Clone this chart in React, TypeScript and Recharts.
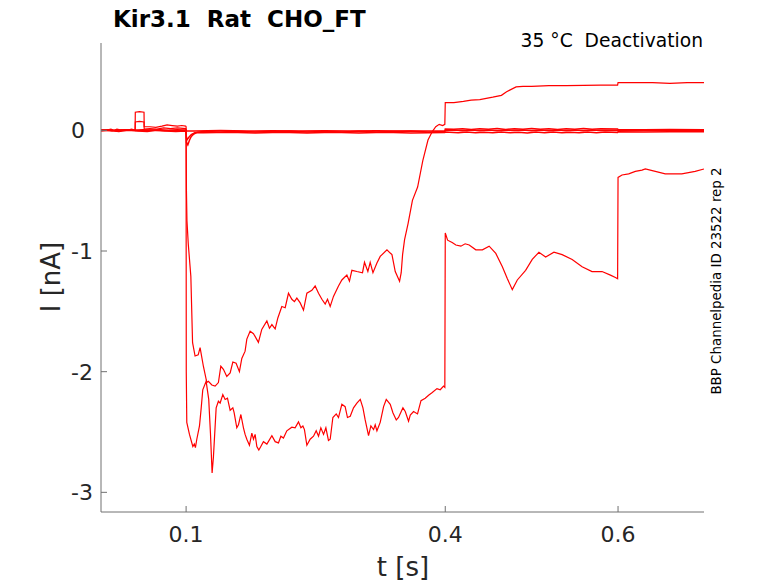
import React from 'react';
import { LineChart, Line, XAxis, YAxis } from 'recharts';

const xTicks = [0.1, 0.4, 0.6];
const yTicks = [-3, -2, -1, 0];
const xDomain: [number, number] = [0.0015, 0.6995];
const yDomain: [number, number] = [-3.163, 0.724];

const titleText = 'Kir3.1  Rat  CHO_FT';
const conditionText = '35 °C  Deactivation';
const sourceText = 'BBP Channelpedia ID 23522 rep 2';
const xLabel = 't [s]';
const yLabel = 'I [nA]';

// sweep with slow deactivation, ends on top after the 0.4 s step
const sweepA: [number, number][] = [
  [0.0015, 0.0], [0.008, 0.005], [0.014, -0.005], [0.02, 0.01], [0.026, 0.0], [0.032, 0.005],
  [0.038, 0.0], [0.041, 0.0], [0.0412, 0.15], [0.046, 0.155], [0.0513, 0.15], [0.0515, 0.03],
  [0.058, 0.03], [0.065, 0.025], [0.072, 0.035], [0.078, 0.045], [0.084, 0.04], [0.09, 0.035],
  [0.095, 0.04], [0.0995, 0.035], [0.1, 0.03], [0.1004, -0.5], [0.101, -0.75], [0.1025, -0.94],
  [0.1055, -1.21], [0.1075, -1.76], [0.1104, -1.87], [0.114, -1.86], [0.1162, -1.8], [0.12, -1.955],
  [0.124, -2.09], [0.1258, -2.08], [0.1298, -2.11], [0.1336, -2.12], [0.1374, -2.09], [0.1402, -1.955],
  [0.1432, -1.98], [0.1471, -2.04], [0.151, -2.01], [0.1541, -1.92], [0.1579, -1.93], [0.1617, -2.0],
  [0.1645, -1.89], [0.1683, -1.83], [0.1703, -1.73], [0.1741, -1.665], [0.178, -1.685], [0.1837, -1.757],
  [0.1876, -1.65], [0.1935, -1.58], [0.1965, -1.64], [0.1993, -1.61], [0.2031, -1.646], [0.2062, -1.555],
  [0.2108, -1.46], [0.2147, -1.47], [0.2185, -1.35], [0.2224, -1.4], [0.2254, -1.42], [0.2282, -1.39],
  [0.2321, -1.43], [0.2359, -1.49], [0.2398, -1.35], [0.2456, -1.326], [0.2494, -1.29], [0.2533, -1.35],
  [0.2572, -1.4], [0.261, -1.44], [0.2637, -1.4], [0.2668, -1.46], [0.2706, -1.376], [0.2764, -1.29],
  [0.2803, -1.24], [0.2861, -1.2], [0.2891, -1.25], [0.2919, -1.16], [0.2977, -1.17], [0.3042, -1.18],
  [0.3065, -1.094], [0.3104, -1.17], [0.3131, -1.094], [0.3163, -1.18], [0.3209, -1.1], [0.3247, -1.045],
  [0.3325, -0.99], [0.3363, -1.017], [0.3383, -1.03], [0.3421, -1.17], [0.3471, -1.25], [0.349, -1.18],
  [0.3506, -1.03], [0.3529, -0.906], [0.357, -0.77], [0.362, -0.58], [0.368, -0.47], [0.374, -0.25],
  [0.38, -0.08], [0.385, -0.01], [0.389, 0.03], [0.393, 0.05], [0.397, 0.04], [0.3995, 0.05],
  [0.4, 0.23], [0.41, 0.23], [0.421, 0.24], [0.43, 0.25], [0.44, 0.255], [0.455, 0.275],
  [0.465, 0.29], [0.471, 0.32], [0.482, 0.36], [0.49, 0.365], [0.5, 0.365], [0.52, 0.37],
  [0.54, 0.37], [0.56, 0.372], [0.58, 0.375], [0.5995, 0.375], [0.6, 0.395], [0.62, 0.395],
  [0.64, 0.395], [0.66, 0.39], [0.68, 0.395], [0.6995, 0.395],
];

// sweep with large inward current
const sweepB: [number, number][] = [
  [0.0015, 0.005], [0.007, 0.0], [0.013, 0.01], [0.019, -0.005], [0.025, 0.005], [0.031, 0.0],
  [0.037, 0.01], [0.041, 0.0], [0.0412, 0.07], [0.046, 0.075], [0.0513, 0.07], [0.0515, 0.01],
  [0.058, 0.015], [0.066, 0.01], [0.074, 0.02], [0.082, 0.015], [0.09, 0.02], [0.0995, 0.015],
  [0.1, 0.01], [0.1002, -2.0], [0.1008, -2.42], [0.1039, -2.52], [0.1078, -2.62], [0.1095, -2.6],
  [0.1108, -2.63], [0.1124, -2.56], [0.1155, -2.45], [0.1175, -2.3], [0.1193, -2.15], [0.1232, -2.08],
  [0.1262, -2.23], [0.1282, -2.51], [0.1301, -2.84], [0.1316, -2.71], [0.1348, -2.3], [0.1374, -2.245],
  [0.1394, -2.26], [0.1425, -2.19], [0.1452, -2.23], [0.1479, -2.22], [0.151, -2.32], [0.1541, -2.3],
  [0.1556, -2.34], [0.1587, -2.465], [0.1606, -2.44], [0.1634, -2.355], [0.1664, -2.465], [0.1683, -2.52],
  [0.1703, -2.56], [0.1733, -2.61], [0.1761, -2.51], [0.178, -2.56], [0.1799, -2.52], [0.1819, -2.62],
  [0.1842, -2.65], [0.1865, -2.62], [0.1895, -2.58], [0.1935, -2.6], [0.1993, -2.53], [0.2031, -2.58],
  [0.2069, -2.59], [0.2097, -2.535], [0.2127, -2.55], [0.2166, -2.49], [0.2224, -2.46], [0.2262, -2.465],
  [0.2301, -2.416], [0.2329, -2.465], [0.2352, -2.45], [0.237, -2.48], [0.2398, -2.61], [0.2436, -2.56],
  [0.2475, -2.535], [0.2506, -2.49], [0.2533, -2.535], [0.256, -2.465], [0.2591, -2.52], [0.2618, -2.465],
  [0.2648, -2.57], [0.2668, -2.56], [0.2699, -2.38], [0.2738, -2.35], [0.2764, -2.38], [0.2803, -2.27],
  [0.2841, -2.29], [0.2868, -2.38], [0.29, -2.37], [0.2938, -2.3], [0.2977, -2.26], [0.3016, -2.23],
  [0.3047, -2.3], [0.3073, -2.4], [0.3112, -2.53], [0.3139, -2.45], [0.317, -2.48], [0.3189, -2.44],
  [0.3209, -2.49], [0.3247, -2.42], [0.3286, -2.29], [0.3317, -2.23], [0.3363, -2.27], [0.3394, -2.34],
  [0.3433, -2.4], [0.3459, -2.38], [0.351, -2.3], [0.3537, -2.33], [0.3575, -2.41], [0.3595, -2.36],
  [0.3633, -2.33], [0.3679, -2.35], [0.3719, -2.24], [0.3768, -2.22], [0.3807, -2.195], [0.3846, -2.175],
  [0.3904, -2.14], [0.3942, -2.15], [0.398, -2.12], [0.3995, -2.13], [0.4, -0.85], [0.4027, -0.91],
  [0.408, -0.93], [0.4123, -0.95], [0.4181, -0.96], [0.423, -0.94], [0.4277, -0.95], [0.4354, -0.99],
  [0.443, -0.99], [0.4508, -0.96], [0.4585, -1.02], [0.4661, -1.13], [0.4719, -1.23], [0.4776, -1.32],
  [0.4834, -1.24], [0.493, -1.16], [0.5007, -1.07], [0.5084, -1.01], [0.5162, -1.05], [0.5258, -1.01],
  [0.5353, -1.03], [0.5469, -1.07], [0.5584, -1.13], [0.5699, -1.17], [0.5815, -1.17], [0.5912, -1.2],
  [0.597, -1.22], [0.5995, -1.23], [0.6, -0.39], [0.6046, -0.37], [0.6123, -0.36], [0.62, -0.34],
  [0.6277, -0.33], [0.6316, -0.32], [0.6431, -0.34], [0.6546, -0.36], [0.6738, -0.36], [0.6893, -0.34],
  [0.6995, -0.32],
];

// sweeps that stay near zero
const sweepC: [number, number][] = [
  [0.0015, 0.0], [0.01, 0.005], [0.02, -0.005], [0.03, 0.005], [0.04, 0.0], [0.05, 0.005],
  [0.06, 0.0], [0.07, 0.005], [0.08, 0.0], [0.09, 0.005], [0.0995, 0.0], [0.1, -0.02],
  [0.1005, -0.1], [0.102, -0.12], [0.104, -0.08], [0.106, -0.05], [0.109, -0.03], [0.113, -0.015],
  [0.12, -0.01], [0.14, -0.013], [0.16, -0.007], [0.18, -0.013], [0.2, -0.009], [0.22, -0.006],
  [0.24, -0.013], [0.26, -0.009], [0.28, -0.013], [0.3, -0.007], [0.32, -0.013], [0.34, -0.009],
  [0.36, -0.006], [0.38, -0.013], [0.3995, -0.01], [0.4, 0.012], [0.41, 0.009], [0.42, 0.014],
  [0.43, 0.008], [0.44, 0.013], [0.45, 0.01], [0.46, 0.015], [0.47, 0.008], [0.48, 0.013],
  [0.49, 0.01], [0.5, 0.015], [0.51, 0.009], [0.52, 0.013], [0.53, 0.008], [0.54, 0.014],
  [0.55, 0.01], [0.56, 0.015], [0.57, 0.009], [0.58, 0.013], [0.5995, 0.011], [0.6, 0.007],
  [0.63, 0.006], [0.66, 0.008], [0.6995, 0.006],
];

const sweepD: [number, number][] = [
  [0.0015, -0.005], [0.012, 0.0], [0.022, -0.01], [0.033, 0.0], [0.044, -0.005], [0.055, -0.01],
  [0.066, 0.0], [0.077, -0.005], [0.088, -0.01], [0.0995, -0.005], [0.1, -0.03], [0.1008, -0.08],
  [0.103, -0.06], [0.106, -0.035], [0.11, -0.02], [0.12, -0.019], [0.15, -0.016], [0.18, -0.021],
  [0.21, -0.016], [0.24, -0.021], [0.27, -0.016], [0.3, -0.021], [0.33, -0.016], [0.36, -0.021],
  [0.3995, -0.017], [0.4, -0.014], [0.415, -0.019], [0.425, -0.014], [0.435, -0.02], [0.445, -0.015],
  [0.455, -0.02], [0.465, -0.014], [0.475, -0.019], [0.485, -0.015], [0.495, -0.021], [0.505, -0.014],
  [0.515, -0.019], [0.525, -0.013], [0.535, -0.02], [0.545, -0.015], [0.555, -0.02], [0.565, -0.014],
  [0.575, -0.019], [0.585, -0.014], [0.5995, -0.017], [0.6, -0.012], [0.63, -0.013], [0.66, -0.011],
  [0.6995, -0.012],
];

const sweepE: [number, number][] = [
  [0.0015, 0.002], [0.015, -0.003], [0.03, 0.004], [0.045, -0.002], [0.06, 0.003], [0.075, -0.003],
  [0.0995, 0.002], [0.1, -0.005], [0.11, -0.005], [0.14, -0.002], [0.17, -0.006], [0.2, -0.003],
  [0.23, -0.006], [0.26, -0.003], [0.29, -0.006], [0.32, -0.003], [0.35, -0.006], [0.3995, -0.004],
  [0.4, -0.001], [0.41, 0.003], [0.42, -0.003], [0.43, 0.002], [0.44, -0.004], [0.45, 0.002],
  [0.46, -0.003], [0.47, 0.003], [0.48, -0.002], [0.49, 0.003], [0.5, -0.004], [0.51, 0.002],
  [0.52, -0.003], [0.53, 0.003], [0.54, -0.004], [0.55, 0.002], [0.56, -0.003], [0.57, 0.003],
  [0.58, -0.002], [0.5995, 0.001], [0.6, -0.002], [0.64, -0.001], [0.68, -0.003], [0.6995, -0.001],
];

const sweeps = [sweepC, sweepD, sweepE, sweepB, sweepA];

const toRows = (pts: [number, number][]) => pts.map(([t, i]) => ({ t, i }));

const AXIS = '#707070';
const TEXT = '#262626';
const FONT = '"DejaVu Sans", sans-serif';
const TRACE = '#ff0000';

const XTick = (props: any) => {
  const { x, y, payload } = props;
  return (
    <g>
      <line x1={x} x2={x} y1={y} y2={y - 6} stroke={AXIS} strokeWidth={1} />
      <text x={x} y={y + 30} textAnchor="middle" fontSize={22} fill={TEXT} fontFamily={FONT}>
        {String(payload.value)}
      </text>
    </g>
  );
};

const YTick = (props: any) => {
  const { x, y, payload } = props;
  const v = payload.value;
  return (
    <g>
      <line x1={x} x2={x + 6} y1={y} y2={y} stroke={AXIS} strokeWidth={1} />
      <text x={v === 0 ? x - 16 : x - 8} y={y} dy="0.36em" textAnchor="end" fontSize={22} fill={TEXT} fontFamily={FONT}>
        {String(v)}
      </text>
    </g>
  );
};

export default function App() {
  return (
    <div style={{ position: 'absolute', left: 0, top: 0, width: 778, height: 583, background: '#fff' }}>
      <LineChart width={778} height={583} margin={{ top: 43, right: 74, bottom: 0, left: 0 }}>
        <XAxis
          type="number"
          dataKey="t"
          domain={xDomain}
          ticks={xTicks}
          allowDataOverflow
          height={71}
          tickSize={0}
          tickMargin={0}
          tickLine={false}
          axisLine={{ stroke: AXIS, strokeWidth: 1 }}
          tick={<XTick />}
          interval={0}
        />
        <YAxis
          type="number"
          dataKey="i"
          domain={yDomain}
          ticks={yTicks}
          allowDataOverflow
          width={101}
          tickSize={0}
          tickMargin={0}
          tickLine={false}
          axisLine={{ stroke: AXIS, strokeWidth: 1 }}
          tick={<YTick />}
          interval={0}
        />
        {sweeps.map((s, k) => (
          <Line
            key={k}
            data={toRows(s)}
            dataKey="i"
            type="linear"
            stroke={TRACE}
            strokeWidth={k < 3 ? 1.5 : 1.2}
            dot={false}
            activeDot={false}
            isAnimationActive={false}
          />
        ))}
      </LineChart>
      <svg width={778} height={583} style={{ position: 'absolute', left: 0, top: 0, pointerEvents: 'none' }}>
        <text x={113} y={27} fontSize={23} fontWeight="bold" fill="#000" fontFamily={FONT} style={{ whiteSpace: 'pre' }}>
          {titleText}
        </text>
        <text x={703} y={47} fontSize={18.7} textAnchor="end" fill="#000" fontFamily={FONT} style={{ whiteSpace: 'pre' }}>
          {conditionText}
        </text>
        <text x={0} y={0} transform="translate(720.5,281) rotate(-90)" fontSize={13.4} textAnchor="middle" fill="#000" fontFamily={FONT}>
          {sourceText}
        </text>
        <text x={0} y={0} transform="translate(59.5,277) rotate(-90)" fontSize={26} textAnchor="middle" fill={TEXT} fontFamily={FONT}>
          {yLabel}
        </text>
        <text x={403} y={576} fontSize={26} textAnchor="middle" fill={TEXT} fontFamily={FONT}>
          {xLabel}
        </text>
      </svg>
    </div>
  );
}
